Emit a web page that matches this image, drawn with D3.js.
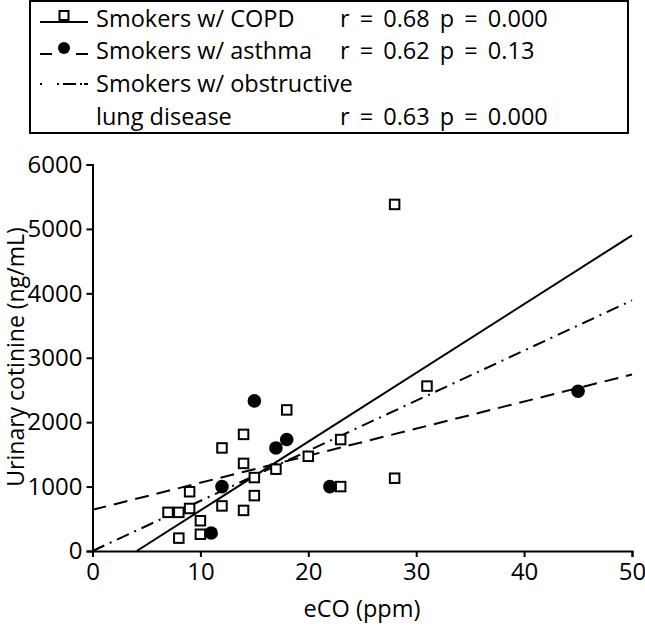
<!DOCTYPE html>
<html>
<head>
<meta charset="utf-8">
<script src="https://cdn.jsdelivr.net/npm/d3@7"></script>
<style>
  body { margin: 0; background: #fff; }
  svg { display: block; }
  text { font-family: "Open Sans", sans-serif; fill: #000; }
</style>
</head>
<body>
<svg id="chart" width="645" height="627"></svg>
<script>
// ---- data ----
const copdX = [18, 14, 12, 14, 17, 15, 20, 23, 23, 9, 15, 9, 7, 8, 12, 14, 10, 10, 8, 28, 31, 28];
const copdY = [2190, 1810, 1600, 1360, 1270, 1140, 1470, 1730, 1000, 920, 860, 660, 600, 600, 700, 630, 470, 260, 200, 5380, 2560, 1130];
const asthmaX = [15, 18, 17, 12, 22, 11, 45];
const asthmaY = [2330, 1730, 1600, 1000, 1000, 280, 2480];
const copdFitX = [4.1, 50];
const copdFitY = [0, 4900];
const asthmaFitX = [0, 50];
const asthmaFitY = [640, 2740];
const oldFitX = [0, 50];
const oldFitY = [0, 3890];
const xTicks = [0, 10, 20, 30, 40, 50];
const yTicks = [0, 1000, 2000, 3000, 4000, 5000, 6000];
const legendLabels = ["Smokers w/ COPD", "Smokers w/ asthma", "Smokers w/ obstructive", "lung disease"];
const legendStats = ["r = 0.68 p = 0.000", "r = 0.62 p = 0.13", "", "r = 0.63 p = 0.000"];

const svg = d3.select("#chart");
const x = d3.scaleLinear().domain([0, 50]).range([92.5, 632]);
const y = d3.scaleLinear().domain([0, 6000]).range([551, 164.5]);

const DASH = "14,8";
const DASHDOT = "13,6,2,6";

// axes
const xAxis = svg.append("g").attr("transform", `translate(0,${y(0)})`)
  .call(d3.axisBottom(x).tickValues(xTicks).tickSize(6).tickPadding(6).tickFormat(d3.format("d")));
const yAxis = svg.append("g").attr("transform", `translate(${x(0)},0)`)
  .call(d3.axisLeft(y).tickValues(yTicks).tickSize(6).tickPadding(4).tickFormat(d3.format("d")));
[xAxis, yAxis].forEach(g => {
  g.select(".domain").attr("stroke", "#000").attr("stroke-width", 2);
  g.selectAll(".tick line").attr("stroke", "#000").attr("stroke-width", 2);
  g.selectAll(".tick text").attr("font-size", 24).attr("font-family", "Open Sans").attr("fill", "#000");
});

// axis titles
svg.append("text").attr("x", 362).attr("y", 617).attr("text-anchor", "middle")
  .attr("font-size", 23.5).text("eCO (ppm)");
svg.append("text").attr("transform", "translate(24,357) rotate(-90)").attr("text-anchor", "middle")
  .attr("font-size", 23).text("Urinary cotinine (ng/mL)");

// fit lines
const line = d3.line().x(d => x(d[0])).y(d => y(d[1]));
svg.append("path").datum(d3.zip(copdFitX, copdFitY)).attr("d", line)
  .attr("fill", "none").attr("stroke", "#000").attr("stroke-width", 2);
svg.append("path").datum(d3.zip(asthmaFitX, asthmaFitY)).attr("d", line)
  .attr("fill", "none").attr("stroke", "#000").attr("stroke-width", 2).attr("stroke-dasharray", DASH);
svg.append("path").datum(d3.zip(oldFitX, oldFitY)).attr("d", line)
  .attr("fill", "none").attr("stroke", "#000").attr("stroke-width", 2).attr("stroke-dasharray", DASHDOT);

// points
const S = 9.5;
svg.append("g").selectAll("rect").data(d3.zip(copdX, copdY)).join("rect")
  .attr("x", d => x(d[0]) - S / 2).attr("y", d => y(d[1]) - S / 2)
  .attr("width", S).attr("height", S)
  .attr("fill", "#fff").attr("stroke", "#000").attr("stroke-width", 2);
svg.append("g").selectAll("circle").data(d3.zip(asthmaX, asthmaY)).join("circle")
  .attr("cx", d => x(d[0])).attr("cy", d => y(d[1])).attr("r", 6.8).attr("fill", "#000");

// legend
const lg = svg.append("g");
lg.append("rect").attr("x", 30).attr("y", 1).attr("width", 598).attr("height", 132)
  .attr("fill", "#fff").attr("stroke", "#000").attr("stroke-width", 2);
const rowY = [19, 51, 84, 117];
// symbols
lg.append("line").attr("x1", 40).attr("x2", 88).attr("y1", rowY[0] + 3).attr("y2", rowY[0] + 3)
  .attr("stroke", "#000").attr("stroke-width", 2);
lg.append("rect").attr("x", 64 - 4.5).attr("y", rowY[0] - 8).attr("width", 9).attr("height", 9)
  .attr("fill", "#fff").attr("stroke", "#000").attr("stroke-width", 2);
lg.append("line").attr("x1", 40).attr("x2", 88).attr("y1", rowY[1] + 3).attr("y2", rowY[1] + 3)
  .attr("stroke", "#000").attr("stroke-width", 2).attr("stroke-dasharray", "12,24,12");
lg.append("circle").attr("cx", 64).attr("cy", rowY[1] - 3).attr("r", 6).attr("fill", "#000");
lg.append("line").attr("x1", 40).attr("x2", 88).attr("y1", rowY[2]).attr("y2", rowY[2])
  .attr("stroke", "#000").attr("stroke-width", 2).attr("stroke-dasharray", "2,15,2,4,13,4,2");

lg.selectAll("text.lab").data(legendLabels).join("text").attr("class", "lab")
  .attr("x", 96).attr("y", (d, i) => rowY[i] + 8).attr("font-size", 23.5).text(d => d);
lg.selectAll("text.stat").data(legendStats).join("text").attr("class", "stat")
  .attr("x", 340).attr("y", (d, i) => rowY[i] + 8).attr("font-size", 23.5)
  .attr("word-spacing", 4).text(d => d);
</script>
</body>
</html>
